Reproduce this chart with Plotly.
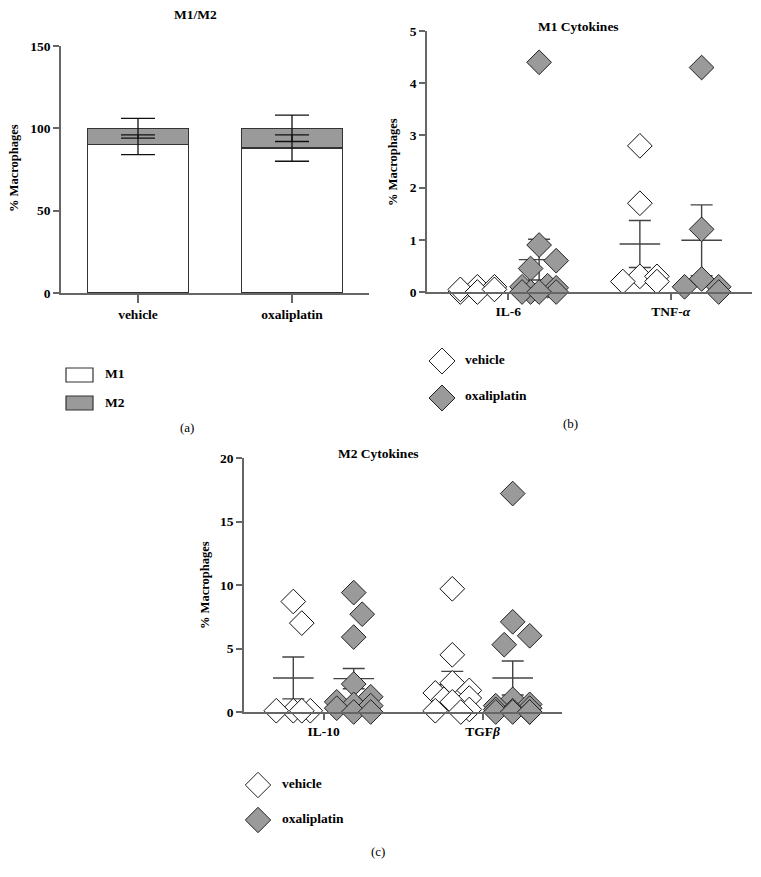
import plotly.graph_objects as go

W, H = 761, 877

# (a) M1/M2 share of macrophages
groups = ["vehicle", "oxaliplatin"]
m1_pct = [90, 88]
m2_pct = [10, 12]
m1_err = [6, 8]
m2_err = [6, 8]

# (b) M1 cytokines
m1_cyt = ["IL-6", "TNF-<i>α</i>"]
il6_vehicle = [0.0, 0.1, 0.05, 0.1, 0.0, 0.05]
il6_oxali = [4.4, 0.9, 0.6, 0.45, 0.12, 0.1, 0.08, 0.0, 0.0, 0.0, 0.0]
tnf_vehicle = [2.8, 1.7, 0.3, 0.2, 0.3, 0.2]
tnf_oxali = [4.3, 1.2, 0.1, 0.25, 0.0, 0.1]
m1_mean_vehicle = [0.05, 0.92]
m1_sem_vehicle = [0.02, 0.45]
m1_mean_oxali = [0.62, 0.99]
m1_sem_oxali = [0.39, 0.68]

# (c) M2 cytokines
m2_cyt = ["IL-10", "TGF<i>β</i>"]
il10_vehicle = [8.7, 7.0, 0.1, 0.1, 0.1, 0.1]
il10_oxali = [9.4, 7.7, 5.9, 2.2, 1.2, 0.8, 0.6, 0.5, 0.3, 0.0, 0.0]
tgf_vehicle = [9.7, 4.5, 2.3, 1.7, 1.5, 1.1, 1.0, 0.8, 0.2, 0.1, 0.0]
tgf_oxali = [17.2, 7.1, 6.0, 5.3, 1.0, 0.6, 0.5, 0.3, 0.2, 0.1, 0.0, 0.0, 0.0, 0.0]
m2_mean_vehicle = [2.68, 2.15]
m2_sem_vehicle = [1.65, 1.05]
m2_mean_oxali = [2.63, 2.68]
m2_sem_oxali = [0.8, 1.34]

FONT = "Liberation Serif"
AXIS = "#666666"
GREY = "#9a9a9a"
GROUP_SHIFT = 0.19


def px(x, y):
    """pixel -> paper coords"""
    return x / W, 1 - y / H


def swarm(values, px_per_x, px_per_y, step=8.5, reach=22, kmax=2):
    """spread overlapping points sideways (kept compact, overlaps allowed)"""
    cands = [0.0]
    for k in range(1, kmax + 1):
        cands += [k * step, -k * step]
    placed = []
    res = [0.0] * len(values)
    order = sorted(range(len(values)), key=lambda i: -values[i])
    for i in order:
        y = values[i] * px_per_y
        best, best_cost = 0.0, None
        for c in cands:
            cost = sum(max(0.0, 1 - ((c - p) ** 2 + (y - q) ** 2) ** 0.5 / reach) for p, q in placed)
            if best_cost is None or cost < best_cost - 1e-9:
                best, best_cost = c, cost
        placed.append((best, y))
        res[i] = best / px_per_x
    return res


fig = go.Figure()

# ---- (a) stacked bars
fig.add_trace(go.Bar(
    x=groups, y=m1_pct, width=0.66, name="M1",
    marker=dict(color="white", line=dict(color="#333", width=1.2)),
    xaxis="x", yaxis="y", showlegend=False,
))
fig.add_trace(go.Bar(
    x=groups, y=m2_pct, width=0.66, name="M2",
    marker=dict(color=GREY, line=dict(color="#333", width=1.2)),
    xaxis="x", yaxis="y", showlegend=False,
))
# error bars drawn on top of both segments
tops_m1 = list(m1_pct)
tops_m2 = [a + b for a, b in zip(m1_pct, m2_pct)]
for tops, errs in ((tops_m1, m1_err), (tops_m2, m2_err)):
    fig.add_trace(go.Scatter(
        x=groups, y=tops, mode="markers", marker=dict(size=1, opacity=0),
        error_y=dict(type="data", array=errs, width=17, thickness=1.3, color="#111"),
        xaxis="x", yaxis="y", showlegend=False, hoverinfo="skip",
    ))


def add_dot_panel(xa, ya, veh_sets, oxa_sets, mean_v, sem_v, mean_o, sem_o, px_x, px_y):
    n = len(veh_sets)
    # mean +/- SEM behind the points
    for means, sems, shift in ((mean_v, sem_v, -GROUP_SHIFT), (mean_o, sem_o, GROUP_SHIFT)):
        fig.add_trace(go.Scatter(
            x=[i + shift for i in range(n)], y=means, mode="markers",
            marker=dict(symbol="line-ew", size=29, line=dict(color="#444", width=1.4)),
            error_y=dict(type="data", array=sems, width=11, thickness=1.4, color="#444"),
            cliponaxis=False, showlegend=False, xaxis=xa, yaxis=ya, hoverinfo="skip",
        ))
    for sets, shift, fill, edge in ((veh_sets, -GROUP_SHIFT, "white", "#111"),
                                    (oxa_sets, GROUP_SHIFT, GREY, "#222")):
        for i, vals in enumerate(sets):
            offs = swarm(vals, px_x, px_y)
            fig.add_trace(go.Scatter(
                x=[i + shift + o for o in offs], y=vals, mode="markers",
                marker=dict(symbol="diamond", size=19, color=fill, line=dict(color=edge, width=1)),
                cliponaxis=False, showlegend=False, xaxis=xa, yaxis=ya,
            ))


add_dot_panel("x2", "y2", [il6_vehicle, tnf_vehicle], [il6_oxali, tnf_oxali],
              m1_mean_vehicle, m1_sem_vehicle, m1_mean_oxali, m1_sem_oxali, 162, 52.2)
add_dot_panel("x3", "y3", [il10_vehicle, tgf_vehicle], [il10_oxali, tgf_oxali],
              m2_mean_vehicle, m2_sem_vehicle, m2_mean_oxali, m2_sem_oxali, 159, 12.7)

tickfont = dict(family=FONT, size=13.5, color="black", weight="bold")
common = dict(showline=True, linecolor=AXIS, linewidth=1.5, ticks="outside", tickcolor=AXIS,
              tickwidth=1.5, showgrid=False, zeroline=False, tickfont=tickfont, fixedrange=True,
              automargin=False)


def dom(x0, x1, y0, y1):
    return [x0 / W, x1 / W], [1 - y1 / H, 1 - y0 / H]


ax_dx, ax_dy = dom(61, 369, 46, 293)
bx_dx, bx_dy = dom(427, 752, 31, 292)
cx_dx, cx_dy = dom(244, 562, 458, 712)

fig.update_layout(
    template="none",
    width=W, height=H, autosize=False,
    margin=dict(l=0, r=0, t=0, b=0, pad=0),
    paper_bgcolor="white", plot_bgcolor="white",
    font=dict(family=FONT, color="black"),
    barmode="stack",
    xaxis=dict(domain=ax_dx, anchor="y", range=[-0.5, 1.5], ticklen=8, **common),
    yaxis=dict(domain=ax_dy, anchor="x", range=[0, 150], tickvals=[0, 50, 100, 150], ticklen=6, **common),
    xaxis2=dict(domain=bx_dx, anchor="y2", range=[-0.5, 1.5], tickvals=[0, 1], ticktext=m1_cyt,
                ticklen=6, **common),
    yaxis2=dict(domain=bx_dy, anchor="x2", range=[0, 5], dtick=1, ticklen=6, **common),
    xaxis3=dict(domain=cx_dx, anchor="y3", range=[-0.5, 1.5], tickvals=[0, 1], ticktext=m2_cyt,
                ticklen=6, **common),
    yaxis3=dict(domain=cx_dy, anchor="x3", range=[0, 20], dtick=5, ticklen=6, **common),
)

ann = []
bold = dict(family=FONT, size=13.5, color="black", weight="bold")
ylab = dict(family=FONT, size=12.5, color="black", weight="bold")
plain = dict(family=FONT, size=13, color="black")


def text(x, y, s, font=bold, angle=0, xanchor="center"):
    xp, yp = px(x, y)
    ann.append(dict(x=xp, y=yp, xref="paper", yref="paper", text=s, showarrow=False,
                    font=font, textangle=angle, xanchor=xanchor, yanchor="middle"))


# titles, axis titles, panel letters
text(195, 14, "M1/M2")
text(578, 26, "M1 Cytokines")
text(378, 453, "M2 Cytokines")
text(14, 168, "% Macrophages", font=ylab, angle=-90)
text(393, 162, "% Macrophages", font=ylab, angle=-90)
text(205, 585, "% Macrophages", font=ylab, angle=-90)
text(187, 427, "(a)", font=plain)
text(570, 423, "(b)", font=plain)
text(378, 851, "(c)", font=plain)

shapes = []


def rect(x0, y0, x1, y1, fill):
    a, b = px(x0, y0)
    c, d = px(x1, y1)
    shapes.append(dict(type="rect", xref="paper", yref="paper", x0=a, y0=d, x1=c, y1=b,
                       fillcolor=fill, line=dict(color="#333", width=1.2)))


def diamond(cx, cy, r, fill):
    pts = [px(cx, cy - r), px(cx + r, cy), px(cx, cy + r), px(cx - r, cy)]
    path = "M " + " L ".join(f"{x:.5f},{y:.5f}" for x, y in pts) + " Z"
    shapes.append(dict(type="path", xref="paper", yref="paper", path=path,
                       fillcolor=fill, line=dict(color="#222", width=1)))


# legend (a)
rect(66, 368, 93, 382, "white")
rect(66, 396, 93, 410, GREY)
text(103, 373, "M1", xanchor="left")
text(103, 402, "M2", xanchor="left")

# legend (b)
diamond(442, 361, 13, "white")
diamond(442, 398, 13, GREY)
text(463, 359, "vehicle", xanchor="left")
text(463, 396, "oxaliplatin", xanchor="left")

# legend (c)
diamond(258, 785, 12.7, "white")
diamond(258, 820, 12.7, GREY)
text(280, 783, "vehicle", xanchor="left")
text(280, 818, "oxaliplatin", xanchor="left")

fig.update_layout(annotations=ann, shapes=shapes, showlegend=False)

# pin the 761x877 figure to the window corner so nothing shifts or scrolls
pin = ("document.body.style.margin='0';document.body.style.overflow='hidden';"
       "var d=document.getElementById('{plot_id}');"
       "d.style.position='fixed';d.style.top='0';d.style.left='0';")
fig.write_html("out.html", config={"displayModeBar": False}, post_script=pin)
